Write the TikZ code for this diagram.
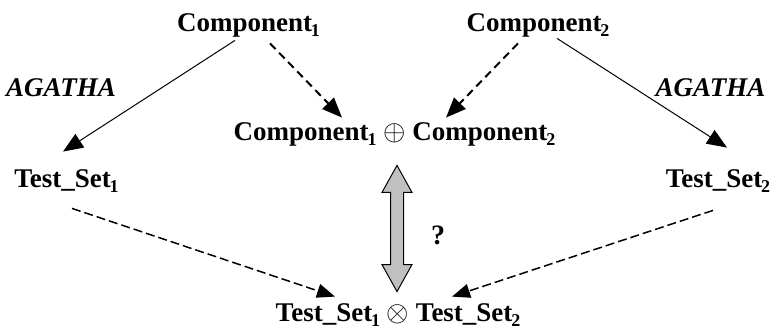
\documentclass[tikz,border=0pt]{standalone}
\usepackage{fontspec}
\setmainfont{Liberation Serif}
\usepackage{tikz}
\usetikzlibrary{arrows.meta}
\usetikzlibrary{calc}

\newcommand{\idx}[1]{\kern-0.6pt\raisebox{-2.5pt}{\fontsize{9}{9}\selectfont #1}}
\newcommand{\bigop}[1]{{\fontsize{13.5}{13.5}\selectfont$#1$}}

\begin{document}
\begin{tikzpicture}[x=0.5pt,y=-0.5pt,
	lbl/.style={inner sep=0pt,anchor=base,text height=9pt,text depth=3pt,font=\fontsize{13.5}{16}\selectfont\bfseries},
	tool/.style={inner sep=0pt,anchor=base,font=\fontsize{13.5}{16}\selectfont\bfseries\itshape},
	gen/.style={-{Triangle[length=10pt,width=8pt]},line width=0.5pt},
	merge/.style={-{Triangle[length=10pt,width=8pt]},line width=1pt,dash pattern=on 4pt off 2.5pt},
	combine/.style={-{Triangle[length=9pt,width=7pt]},line width=0.75pt,dash pattern=on 4.5pt off 2pt},
	biarrow/.style={draw=black,line width=0.5pt,fill={rgb,255:red,192;green,192;blue,192}}]
	\useasboundingbox (0,0) rectangle (772,331);

	\node [lbl] (comp1) at (248.5,32) {Component\idx{1}};
	\node [lbl] (comp2) at (538,32) {Component\idx{2}};
	\node [lbl] (mid) at (394.5,141) {Component\idx{1} \bigop{\oplus} Component\idx{2}};
	\node [lbl] (ts1) at (66.5,188) {Test\_Set\idx{1}};
	\node [lbl] (ts2) at (718,188) {Test\_Set\idx{2}};
	\node [lbl] (prod) at (398,322) {Test\_Set\idx{1} \bigop{\otimes} Test\_Set\idx{2}};
	\node [tool] (ag1) at (61,97) {AGATHA};
	\node [tool] (ag2) at (710.5,97) {AGATHA};
	\node [inner sep=0pt,anchor=base,font=\fontsize{14}{16}\selectfont\bfseries] (ask) at (438,245) {?};

	\draw [gen] ($(comp1.south)+(-13.5,2)$) -- ($(ts1.north)+(-3.5,-18)$);
	\draw [gen] ($(comp2.south)+(19,0)$) -- ($(ts2.north)+(9,-22)$);
	\draw [merge] ($(comp1.south)+(21.5,5)$) -- ($(mid.north)+(-52.5,-5)$);
	\draw [merge] ($(comp2.south)+(-20,5)$) -- ($(mid.north)+(51.5,-5)$);
	\draw [combine] ($(ts1.south)+(5.5,14)$) -- ($(prod.north)+(-63,-7)$);
	\draw [combine] ($(ts2.south)+(-5,16)$) -- ($(prod.north)+(54,-7)$);

	\coordinate (ltop) at ($(mid.south)+(2.5,18)$);
	\coordinate (lbot) at ($(prod.north)+(-1,-12)$);
	\draw [biarrow] (ltop) -- ++(15,27) -- ++(-8.5,0) -- ($(lbot)+(6.5,-27)$) -- ++(8.5,0)
		-- (lbot) -- ++(-15,-27) -- ++(8.5,0) -- ($(ltop)+(-6.5,27)$) -- ++(-8.5,0) -- cycle;
\end{tikzpicture}
\end{document}
